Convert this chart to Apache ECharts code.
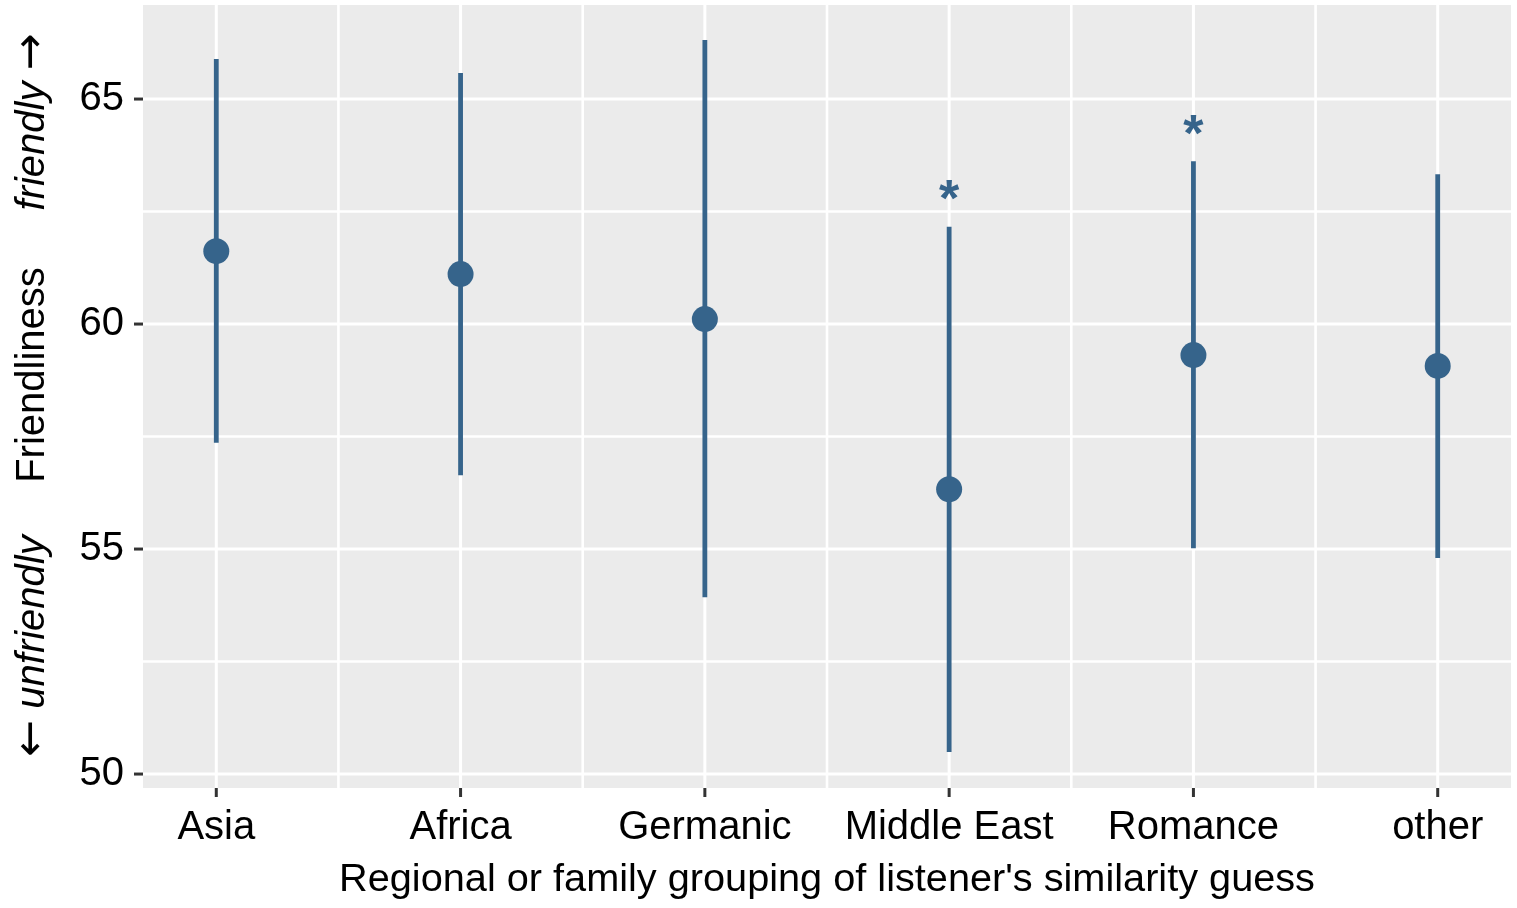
<!DOCTYPE html>
<html>
<head>
<meta charset="utf-8">
<script src="https://cdn.jsdelivr.net/npm/echarts@6/dist/echarts.min.js"></script>
<style>
html,body{margin:0;padding:0;background:#fff;}
#chart{width:1517px;height:908px;}
</style>
</head>
<body>
<div id="chart"></div>
<script>
const categories = ['Asia', 'Africa', 'Germanic', 'Middle East', 'Romance', 'other'];
const means = [61.62, 61.11, 60.11, 56.33, 59.31, 59.07];
const lower = [57.36, 56.64, 53.93, 50.49, 55.02, 54.80];
const upper = [65.89, 65.58, 66.31, 62.16, 63.62, 63.33];
const starY = [null, null, null, 62.98, 64.42, null];
const yTicks = [50, 55, 60, 65];
const yMinor = [52.5, 57.5, 62.5];
const xMinor = [0.5, 1.5, 2.5, 3.5, 4.5];

const FONT = 'Liberation Sans';
const BLUE = '#36648B';
const xIdx = categories.map((c, i) => i);

// gridline items: [orientation (0 = horizontal, 1 = vertical), value, width]
const gridData = [];
yTicks.forEach(v => gridData.push([0, v, 3]));
yMinor.forEach(v => gridData.push([0, v, 2.6]));
xIdx.forEach(v => gridData.push([1, v, 3]));
xMinor.forEach(v => gridData.push([1, v, 2.6]));

// tick mark items: [orientation (0 = y axis, 1 = x axis), value]
const tickData = [];
yTicks.forEach(v => tickData.push([0, v]));
xIdx.forEach(v => tickData.push([1, v]));

const chart = echarts.init(document.getElementById('chart'), null, {renderer: 'canvas'});

const option = {
  animation: false,
  backgroundColor: '#ffffff',
  grid: {
    left: 143, right: 6, top: 5, bottom: 120,
    show: true, backgroundColor: '#EBEBEB', borderWidth: 0
  },
  xAxis: {
    type: 'value', min: -0.3, max: 5.3,
    axisLine: {show: false},
    splitLine: {show: false},
    axisTick: {show: false},
    axisLabel: {
      customValues: xIdx,
      formatter: v => categories[Math.round(v)],
      fontSize: 40, lineHeight: 40, color: '#000', margin: 20, fontFamily: FONT
    }
  },
  yAxis: {
    type: 'value', min: 49.69, max: 67.09,
    axisLine: {show: false},
    splitLine: {show: false},
    axisTick: {show: false},
    axisLabel: {
      customValues: yTicks,
      fontSize: 40, lineHeight: 40, color: '#000', margin: 19, fontFamily: FONT
    }
  },
  series: [
    {
      type: 'custom', z: 1, silent: true, clip: false,
      data: gridData,
      renderItem: function (params, api) {
        const cs = params.coordSys;
        const kind = api.value(0), v = api.value(1), w = api.value(2);
        let shape;
        if (kind === 0) {
          const y = api.coord([0, v])[1];
          shape = {x1: cs.x, y1: y, x2: cs.x + cs.width, y2: y};
        } else {
          const x = api.coord([v, 60])[0];
          shape = {x1: x, y1: cs.y, x2: x, y2: cs.y + cs.height};
        }
        return {type: 'line', shape: shape, style: {stroke: '#ffffff', lineWidth: w}};
      }
    },
    {
      type: 'custom', z: 2, silent: true, clip: false,
      data: tickData,
      renderItem: function (params, api) {
        const cs = params.coordSys;
        const kind = api.value(0), v = api.value(1);
        let shape;
        if (kind === 0) {
          const y = api.coord([0, v])[1];
          shape = {x1: cs.x - 9, y1: y, x2: cs.x, y2: y};
        } else {
          const x = api.coord([v, 60])[0];
          const yb = cs.y + cs.height;
          shape = {x1: x, y1: yb, x2: x, y2: yb + 9};
        }
        return {type: 'line', shape: shape, style: {stroke: '#333333', lineWidth: 3}};
      }
    },
    {
      type: 'custom', z: 3, silent: true,
      data: xIdx.map(i => [i, lower[i], upper[i]]),
      renderItem: function (params, api) {
        const p1 = api.coord([api.value(0), api.value(1)]);
        const p2 = api.coord([api.value(0), api.value(2)]);
        return {type: 'line', shape: {x1: p1[0], y1: p1[1], x2: p2[0], y2: p2[1]},
                style: {stroke: BLUE, lineWidth: 4.8, lineCap: 'butt'}};
      }
    },
    {
      type: 'scatter', z: 4, silent: true,
      symbol: 'circle', symbolSize: 26,
      itemStyle: {color: BLUE, opacity: 1},
      data: xIdx.map(i => [i, means[i]])
    },
    {
      type: 'custom', z: 4, silent: true,
      data: xIdx.filter(i => starY[i] !== null).map(i => [i, starY[i]]),
      renderItem: function (params, api) {
        const p = api.coord([api.value(0), api.value(1)]);
        return {type: 'text', x: p[0], y: p[1] + 12,
                style: {text: '*', fill: BLUE, font: 'bold 52px "' + FONT + '"',
                        textAlign: 'center', textVerticalAlign: 'middle'}};
      }
    }
  ],
  graphic: [
    {type: 'text', x: 33, y: 122, rotation: Math.PI / 2,
     style: {text: '{t|friendly }{a|\u2192}', textAlign: 'center', textVerticalAlign: 'middle',
       rich: {
         t: {fontFamily: FONT, fontStyle: 'italic', fontSize: 40, color: '#000'},
         a: {fontFamily: 'DejaVu Sans', fontSize: 44, color: '#000'}
       }}},
    {type: 'text', x: 33, y: 375, rotation: Math.PI / 2,
     style: {text: 'Friendliness', font: '40px "' + FONT + '"', fill: '#000', textAlign: 'center', textVerticalAlign: 'middle'}},
    {type: 'text', x: 33, y: 646, rotation: Math.PI / 2,
     style: {text: '{a|\u2190}{t| unfriendly}', textAlign: 'center', textVerticalAlign: 'middle',
       rich: {
         t: {fontFamily: FONT, fontStyle: 'italic', fontSize: 40, color: '#000'},
         a: {fontFamily: 'DejaVu Sans', fontSize: 44, color: '#000'}
       }}},
    {type: 'text', x: 827, y: 880,
     style: {text: "Regional or family grouping of listener's similarity guess", font: '39.7px "' + FONT + '"', fill: '#000', textAlign: 'center', textVerticalAlign: 'middle'}}
  ]
};
chart.setOption(option);
</script>
</body>
</html>
